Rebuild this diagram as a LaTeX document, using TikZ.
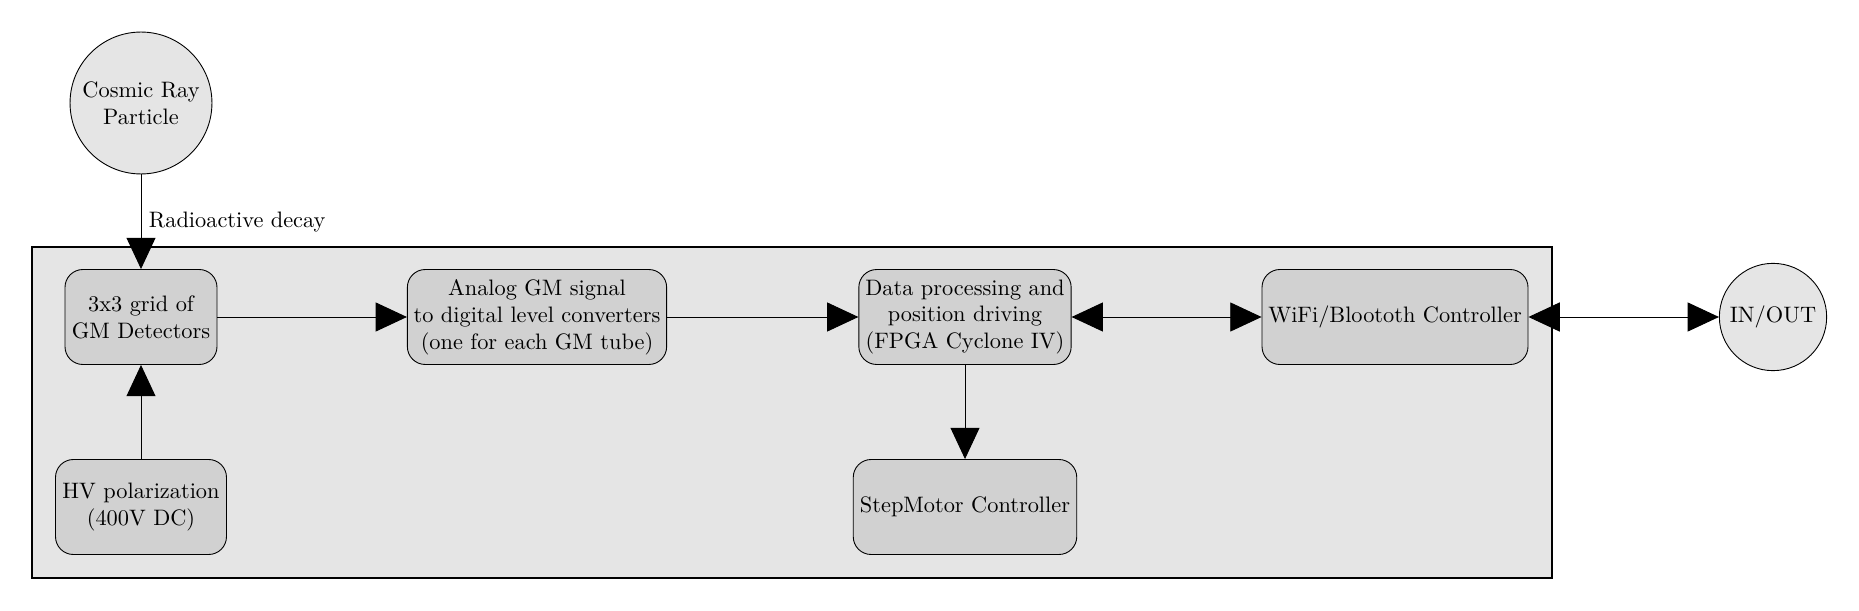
\documentclass[tikz,border=0pt]{standalone}
\usetikzlibrary{arrows.meta}

\tikzset{
	block/.style={draw, rounded corners=8pt, fill=black!18, align=center, minimum height=42.5pt, inner sep=2pt},
	source/.style={draw, circle, fill=black!10, align=center, inner sep=1pt},
	link/.style={-{Triangle[length=14pt,width=13pt]}},
	dlink/.style={{Triangle[length=14pt,width=13pt]}-{Triangle[length=14pt,width=13pt]}}
}

\begin{document}
\begin{tikzpicture}[x=0.4474pt,y=0.4474pt,yscale=-1,xscale=1]
		\useasboundingbox (0,0) rectangle (1859,611);
		
		%Board background
		\draw [semithick, fill=black!10] (32,247) rectangle (1552,578) ;
		
		% Sources
		\node [source, minimum size=63.5pt] (cosmic) at (141,103) {Cosmic Ray\\Particle};
		\node [source, minimum size=48pt] (inout) at (1773,317) {IN/OUT};
		
		% Blocks
		\node [block, minimum width=68pt] (grid) at (141,317) {3x3 grid of\\GM Detectors};
		\node [block, minimum width=76.5pt] (hv) at (141,507) {HV polarization\\(400V DC)};
		\node [block, minimum width=116pt] (adc) at (537,317) {Analog GM signal\\to digital level converters\\(one for each GM tube)};
		\node [block, minimum width=95pt] (fpga) at (965,317) {Data processing and\\position driving\\(FPGA Cyclone IV)};
		\node [block, minimum width=100pt] (motor) at (965,507) {StepMotor Controller};
		\node [block, minimum width=119pt] (wifi) at (1395,317) {WiFi/Bloototh Controller};
		
		% Connectors
		\draw [link] (cosmic) -- (grid) node [midway, right] {Radioactive decay};
		\draw [link] (hv) -- (grid);
		\draw [link] (grid) -- (adc);
		\draw [link] (adc) -- (fpga);
		\draw [link] (fpga) -- (motor);
		\draw [dlink] (fpga) -- (wifi);
		\draw [dlink] (wifi) -- (inout);
		
\end{tikzpicture}
\end{document}
